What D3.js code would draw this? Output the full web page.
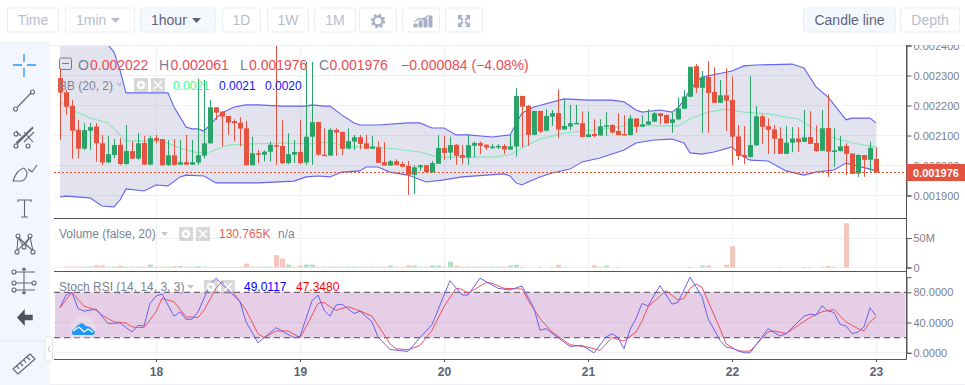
<!DOCTYPE html>
<html>
<head>
<meta charset="utf-8">
<script src="https://cdnjs.cloudflare.com/ajax/libs/d3/7.8.5/d3.min.js"></script>
<style>
  html, body { margin: 0; padding: 0; background: #fff; overflow: hidden; }
  svg { display: block; font-family: "Liberation Sans", Arial, sans-serif; }
  .axis .domain { stroke: #555; }
  .axis line { stroke: #555; }
  .axis text { fill: #7a7f8e; font-size: 11px; }
  .time text { fill: #5d6170; font-size: 12px; font-weight: bold; }
</style>
</head>
<body>
<div id="chart"></div>
<script>
// hourly candles, prices in millionths
const opens = [2291,2244,2199,2119,2056,2116,2130,2074,2010,2035,2069,2005,2048,2023,2075,2003,2091,2088,2001,2034,2003,2011,2003,2010,2033,2074,2194,2180,2165,2148,2143,2124,2001,2041,2036,2046,2068,2065,2008,2036,2045,2010,2096,2145,2036,2033,2119,2112,2056,2080,2094,2074,2056,2061,2011,2000,2014,2005,1999,1969,1994,2001,1978,2006,2058,2043,2069,2035,2026,2066,2075,2069,2060,2060,2065,2053,2063,2232,2199,2102,2182,2116,2163,2175,2120,2130,2140,2141,2095,2105,2100,2129,2135,2115,2105,2101,2157,2129,2136,2146,2174,2168,2142,2154,2189,2229,2331,2259,2295,2245,2209,2234,2218,2097,2035,2028,2067,2164,2131,2120,2090,2039,2076,2090,2079,2095,2075,2049,2125,2046,2048,2065,2040,1973,2035,2019,2022];
const highs = [2324,2252,2219,2152,2141,2141,2141,2102,2099,2088,2091,2135,2080,2108,2099,2099,2102,2088,2085,2088,2085,2102,2085,2289,2285,2219,2194,2180,2165,2154,2161,2149,2096,2052,2050,2080,2402,2152,2108,2085,2152,2345,2345,2146,2124,2124,2124,2114,2124,2102,2102,2102,2099,2080,2078,2019,2021,2013,2015,2002,2003,2002,2015,2102,2099,2096,2071,2069,2102,2080,2080,2071,2071,2071,2071,2102,2258,2232,2202,2182,2182,2188,2185,2254,2219,2202,2202,2180,2180,2154,2154,2178,2137,2174,2168,2168,2157,2168,2187,2179,2174,2170,2177,2227,2251,2329,2338,2315,2348,2327,2285,2324,2296,2135,2131,2298,2198,2170,2157,2135,2128,2131,2128,2128,2185,2181,2134,2185,2237,2124,2098,2074,2040,2038,2035,2079,2061];
const lows = [2085,2169,2022,2024,2052,2052,2013,2002,2008,2024,2002,2002,2022,2019,2002,2001,2074,1999,1999,2001,2002,2002,2002,2002,2024,2072,2152,2063,2102,2080,2063,2000,2000,2008,2013,2013,2002,2005,2005,2008,2005,2002,2002,2032,2032,2032,2032,2035,2054,2052,2054,2054,2055,2009,2000,1999,2001,1994,1902,1905,1982,1976,1976,2005,2019,2019,2002,2005,2002,2028,2038,2052,2055,2055,2038,2052,2030,2061,2065,2101,2108,2114,2132,2092,2119,2119,2140,2094,2094,2094,2099,2099,2106,2101,2101,2101,2109,2129,2135,2145,2138,2140,2109,2151,2188,2228,2242,2109,2109,2208,2208,2115,2001,2018,2005,2027,2066,2071,2039,2038,2038,2038,2044,2045,2078,2071,2046,2048,1962,1996,2047,1968,1971,1962,1962,1977,1976];
const closes = [2243,2196,2116,2056,2118,2128,2074,2010,2038,2068,2005,2048,2023,2074,2003,2091,2083,2001,2034,2002,2011,2003,2011,2034,2074,2194,2176,2163,2143,2141,2123,2001,2041,2036,2046,2069,2063,2008,2038,2045,2008,2096,2144,2036,2033,2119,2110,2056,2081,2094,2072,2056,2063,2009,2000,2014,2002,1996,1969,1994,2001,1978,2008,2058,2042,2068,2032,2026,2068,2075,2066,2060,2063,2065,2053,2064,2232,2196,2102,2182,2113,2165,2174,2120,2132,2141,2142,2095,2104,2098,2131,2134,2110,2101,2101,2157,2129,2137,2147,2174,2165,2141,2154,2190,2230,2329,2259,2294,2242,2209,2234,2216,2096,2032,2028,2068,2164,2129,2119,2089,2039,2076,2090,2078,2094,2072,2048,2124,2046,2050,2064,2039,1972,2035,2019,2059,1976];
const volumes = [0,1.5,1.5,1.5,1.5,1.5,3.5,3.5,1.5,1.5,3,1.5,1.5,1.5,1.5,5,1.5,1.5,1.5,2.5,2.5,1.5,1.5,2.5,1.5,1,1,1,1,1,1.5,6.5,1.5,1.5,1.5,1.5,21,15,5,1.5,3,5,5,1.5,1.5,1.5,1.5,1.5,1.5,1.5,1.5,1.5,1.5,1.5,1.5,3.5,1.5,1.5,3.5,3.5,1.5,1.5,3.5,3.5,1.5,10,3,1.5,1.5,1.5,1.5,1.5,1.5,1.5,1.5,3.5,4.5,1.5,0,0,1.5,0,1.2,4.5,1.2,0,0,0,0,3.5,1.2,3.5,0,1.2,0,0,0,0,0,0,0,0,0,0,0,1.2,0,3.5,3.5,0,0,4.5,36,0,0,0,0,0,0,0,1.2,0,0,0,1.2,1.2,0,1.2,2.5,1.2,0,75,0,0,0,0,0];

// bollinger bands, candle index + price
const upperIdx = [0,4,7,8,9,10,11,18,19,20,21,22,23,24,25,26,27,29,31,33,37,41,42,44,45,47,49,50,53,58,60,62,64,66,68,72,75,76,77,79,84,88,92,94,96,97,100,102,103,104,105,106,107,112,114,116,122,124,126,128,130,131,132,135,136];
const upperVal = [2520,2500,2440,2402,2378,2318,2242,2242,2195,2162,2128,2122,2122,2115,2135,2158,2175,2195,2202,2202,2198,2198,2202,2198,2198,2168,2142,2135,2135,2142,2142,2125,2125,2102,2102,2095,2102,2138,2175,2195,2222,2218,2218,2212,2185,2178,2185,2178,2192,2218,2252,2278,2295,2315,2332,2335,2338,2325,2262,2228,2178,2152,2158,2158,2142];
const lowerIdx = [0,1,5,7,9,10,11,14,16,18,20,21,24,26,33,39,41,43,45,47,50,51,53,55,58,61,64,67,74,75,76,77,78,80,82,85,87,90,94,96,99,102,104,105,107,109,112,113,115,118,121,124,126,129,131,135,136];
const lowerVal = [1895,1898,1892,1865,1862,1885,1922,1915,1935,1932,1962,1968,1965,1942,1942,1948,1962,1965,1962,1978,1982,1995,1995,1978,1968,1945,1952,1962,1972,1965,1942,1935,1945,1962,1975,1988,2012,2025,2052,2075,2085,2088,2075,2042,2038,2045,2062,2042,2018,2015,1982,1968,1978,1985,2008,1988,1982];
const midIdx = [0,2,5,8,11,17,20,21,23,25,28,32,37,42,45,48,52,56,60,63,72,75,77,80,84,87,92,95,99,103,105,108,111,114,118,123,126,129,132,136];
const midVal = [2212,2185,2158,2142,2082,2082,2058,2052,2042,2045,2068,2072,2075,2072,2078,2062,2062,2055,2045,2028,2028,2035,2058,2088,2108,2115,2125,2135,2132,2132,2155,2178,2188,2178,2172,2155,2118,2092,2075,2062];

// stoch rsi lines
const kIdx = [0,1,2,3,4,6,8,10,12,13,14,15,16,17,19,20,21,22,23,25,26,30,31,33,36,38,39,40,42,43,44,45,46,47,49,50,52,53,55,58,60,62,65,67,68,70,73,75,77,79,80,81,85,87,89,91,92,93,94,95,96,97,98,100,102,103,105,107,108,110,111,112,114,115,117,118,120,121,124,125,126,127,128,129,130,131,132,133,134,135,136];
const kVal = [59.5,76.4,80,58.7,55.1,57.8,38.7,39.5,27.5,36.4,35.5,65.3,75.1,77.8,48.4,54.2,44.4,44.4,54.2,89.8,98.7,67.5,40.9,13.3,33.3,24.4,20,21.8,68.9,76.4,56.4,48.4,63.1,64.4,52,55.1,40.9,20.9,4.4,1.8,20,37.3,95.5,76.4,76.4,98.7,85.3,83.1,88.4,58.7,29.8,32,8.4,9.8,0,20.9,25.3,20,5.3,30.7,45.3,65.3,61.8,88.9,64.4,66.7,100,74.2,45.3,16.4,7.5,6.2,0,0,20.9,32,22.2,25.3,48.4,51.1,49.8,62.2,55.5,53.3,37.8,35.5,25.3,27.5,34.2,59.5,49.0117];
const dIdx = [0,2,4,6,7,9,11,12,14,16,17,19,21,23,24,26,27,29,31,33,34,36,38,40,41,43,44,45,46,48,50,52,55,56,58,60,62,64,66,67,68,71,72,74,77,78,80,82,85,88,90,92,94,96,97,98,101,103,104,105,106,107,110,111,113,115,118,119,121,125,127,129,131,133,134,135,136];
const dVal = [59.5,80,61.8,56.4,49.8,40.9,39.5,34.2,33.3,54.2,72,67.5,47.5,46.7,56.4,85.3,94.2,78.7,56.4,25.3,20,28.9,28.9,20,34.2,65.3,66.7,60.9,56.4,60.9,55.5,48.4,12,5.3,4,9.8,29.8,60.9,85.3,84,78.7,92.9,92,85.3,84.4,69.8,45.3,27.5,10.7,7.5,3.1,20,15.5,27.5,41.8,60.9,82.2,69.8,72,85.3,91.1,86.7,32,12,2.2,2.2,27.5,28.9,25.3,46.7,54.2,57.3,40.9,32,28.9,40.9,47.348];

const timeIdx = [16,40,64,88,112,136];
const timeLabels = ['18','19','20','21','22','23'];
const priceTicks = [1900,2000,2100,2200,2300,2400];
const volumeTicks = [0,50];
const stochTicks = [0,40,80];

const GREEN = '#2aa36b';
const RED = '#e4533f';
const W = 965;
const H = 385;
const PLOT_LEFT = 54;
const PLOT_RIGHT = 906.5;
const PLOT_TOP = 45;
const PANE1 = 218;
const PANE2 = 271;
const PANE3 = 359;

const $svg = d3.select('#chart').append('svg').attr('width', W).attr('height', H);

const defs = $svg.append('defs');
defs.append('clipPath').attr('id', 'clip-main').append('rect')
  .attr('x', PLOT_LEFT).attr('y', PLOT_TOP).attr('width', PLOT_RIGHT - PLOT_LEFT).attr('height', PANE1 - PLOT_TOP);
defs.append('clipPath').attr('id', 'clip-axis').append('rect')
  .attr('x', PLOT_RIGHT - 1).attr('y', PLOT_TOP).attr('width', 70).attr('height', PANE3 - PLOT_TOP);

// scales
const scaleX = d3.scaleLinear().domain([0, 136]).range([60, 876]);
const scaleP = d3.scaleLinear().domain([1900, 2400]).range([195.5, 45.5]);
const scaleV = d3.scaleLinear().domain([0, 50]).range([267.5, 238]);
const scaleS = d3.scaleLinear().domain([0, 100]).range([352.8, 277.2]);

// grid
const $grid = $svg.append('g').attr('stroke', '#f0f1f5').attr('shape-rendering', 'crispEdges');
$grid.selectAll('.v').data(timeIdx).join('line')
  .attr('x1', d => scaleX(d)).attr('x2', d => scaleX(d)).attr('y1', PLOT_TOP).attr('y2', PANE3);
const gridH = priceTicks.map(scaleP).concat(volumeTicks.map(scaleV), stochTicks.map(scaleS));
$grid.selectAll('.h').data(gridH).join('line')
  .attr('x1', PLOT_LEFT).attr('x2', PLOT_RIGHT).attr('y1', d => d).attr('y2', d => d);

// bollinger bands
const $main = $svg.append('g').attr('clip-path', 'url(#clip-main)');
const bandPts = upperIdx.map((d, i) => [scaleX(d), scaleP(upperVal[i])])
  .concat(lowerIdx.map((d, i) => [scaleX(d), scaleP(lowerVal[i])]).reverse());
$main.append('path').attr('d', d3.line()(bandPts)).attr('fill', 'rgba(60,60,140,0.14)');

function bandLine(idx, vals, color) {
  $main.append('path')
    .attr('d', d3.line().x(d => scaleX(d)).y((d, i) => scaleP(vals[i]))(idx))
    .attr('fill', 'none').attr('stroke', color).attr('stroke-width', 1.1);
}
bandLine(midIdx, midVal, '#86e8b6');
bandLine(upperIdx, upperVal, '#6464ee');
bandLine(lowerIdx, lowerVal, '#6464ee');

// candles
const $candles = $main.selectAll('.candle').data(opens).join('g').attr('class', 'candle');
const candleColor = (d, i) => closes[i] >= d ? GREEN : RED;
$candles.append('line')
  .attr('x1', (d, i) => Math.round(scaleX(i)) + 0.5).attr('x2', (d, i) => Math.round(scaleX(i)) + 0.5)
  .attr('y1', (d, i) => scaleP(highs[i])).attr('y2', (d, i) => scaleP(lows[i]))
  .attr('stroke', candleColor).attr('stroke-width', 1);
$candles.append('rect')
  .attr('x', (d, i) => scaleX(i) - 2).attr('width', 5)
  .attr('y', (d, i) => scaleP(Math.max(d, closes[i])))
  .attr('height', (d, i) => Math.max(1.5, Math.abs(scaleP(d) - scaleP(closes[i]))))
  .attr('fill', candleColor);

// last price line
const lastY = Math.floor(scaleP(closes[136])) + 0.5;
$svg.append('line')
  .attr('x1', PLOT_LEFT).attr('x2', PLOT_RIGHT).attr('y1', lastY).attr('y2', lastY)
  .attr('stroke', '#e8502f').attr('stroke-dasharray', '2,2');

// volume
$svg.append('g').selectAll('rect').data(volumes).join('rect')
  .attr('x', (d, i) => scaleX(i) - 2).attr('width', 5)
  .attr('y', d => scaleV(d)).attr('height', d => scaleV(0) - scaleV(d))
  .attr('fill', (d, i) => closes[i] >= opens[i] ? '#b5dec9' : '#f3c5bd');

// stoch rsi
$svg.append('rect')
  .attr('x', PLOT_LEFT + 1).attr('width', PLOT_RIGHT - PLOT_LEFT - 2)
  .attr('y', scaleS(80)).attr('height', scaleS(20) - scaleS(80)).attr('fill', '#e4cde6').attr('opacity', 0.98);
$svg.selectAll('.lim').data([80, 20]).join('line')
  .attr('x1', PLOT_LEFT).attr('x2', PLOT_RIGHT).attr('y1', d => scaleS(d)).attr('y2', d => scaleS(d))
  .attr('stroke', '#6e6672').attr('stroke-width', 1.2).attr('stroke-dasharray', '6,4');
$svg.append('line').attr('x1', PLOT_LEFT).attr('x2', PLOT_RIGHT).attr('y1', scaleS(40)).attr('y2', scaleS(40))
  .attr('stroke', '#d8c4dc');
$svg.append('path')
  .attr('d', d3.line().x(d => scaleX(d)).y((d, i) => scaleS(dVal[i]))(dIdx))
  .attr('fill', 'none').attr('stroke', '#f0505f').attr('stroke-width', 1);
$svg.append('path')
  .attr('d', d3.line().x(d => scaleX(d)).y((d, i) => scaleS(kVal[i]))(kIdx))
  .attr('fill', 'none').attr('stroke', '#6a62ec').attr('stroke-width', 1);

// pane borders
$svg.selectAll('.pane').data([PANE1, PANE2, PANE3]).join('line')
  .attr('x1', PLOT_LEFT).attr('x2', PLOT_RIGHT).attr('y1', d => d + 0.5).attr('y2', d => d + 0.5)
  .attr('stroke', '#555');
$svg.append('line').attr('x1', 50).attr('x2', W).attr('y1', PLOT_TOP + 0.5).attr('y2', PLOT_TOP + 0.5).attr('stroke', '#eff0f3');
$svg.append('line').attr('x1', 50).attr('x2', W).attr('y1', 384.5).attr('y2', 384.5).attr('stroke', '#eff0f3');

// axes
const $axes = $svg.append('g').attr('clip-path', 'url(#clip-axis)');
$axes.append('g').attr('class', 'axis').attr('transform', `translate(${PLOT_RIGHT},0)`)
  .call(d3.axisRight(scaleP).tickValues(priceTicks).tickSize(5).tickPadding(2).tickFormat(d => (d / 1e6).toFixed(6)));
$axes.append('g').attr('class', 'axis').attr('transform', `translate(${PLOT_RIGHT},0)`)
  .call(d3.axisRight(scaleV).tickValues(volumeTicks).tickSize(5).tickPadding(2).tickFormat(d => d ? d + 'M' : '0'));
$axes.append('g').attr('class', 'axis').attr('transform', `translate(${PLOT_RIGHT},0)`)
  .call(d3.axisRight(scaleS).tickValues(stochTicks).tickSize(5).tickPadding(2).tickFormat(d => d.toFixed(4)));
$svg.append('line').attr('x1', PLOT_RIGHT).attr('x2', PLOT_RIGHT).attr('y1', PLOT_TOP).attr('y2', PANE3 + 0.5).attr('stroke', '#555');

$svg.append('g').attr('class', 'axis time').attr('transform', `translate(0,${PANE3})`)
  .call(d3.axisBottom(scaleX).tickValues(timeIdx).tickSize(3).tickPadding(5).tickFormat((d, i) => timeLabels[i]))
  .call(g => g.select('.domain').remove());

// last price tag
$svg.append('rect').attr('x', PLOT_RIGHT).attr('y', 164).attr('width', W - PLOT_RIGHT).attr('height', 17).attr('fill', RED);
$svg.append('text').attr('x', 913).attr('y', 176.5).attr('fill', '#fff')
  .attr('font-size', 11).attr('font-weight', 'bold').text((closes[136] / 1e6).toFixed(6));

// legends
function label(x, y, text, color, size) {
  $svg.append('text').attr('x', x).attr('y', y).attr('fill', color).attr('font-size', size || 12).text(text);
}
const LEG_GRAY = '#7b8294';
const LEG_RED = '#ec4a55';
$svg.append('rect').attr('x', 59.5).attr('y', 58).attr('width', 12).attr('height', 11.5).attr('rx', 1.5)
  .attr('fill', 'none').attr('stroke', '#777d8c');
$svg.append('line').attr('x1', 62).attr('x2', 69).attr('y1', 63.5).attr('y2', 63.5).attr('stroke', '#777d8c');
label(78, 70, 'O', LEG_GRAY, 14);
label(90, 70, '0.002022', LEG_RED, 14);
label(159, 70, 'H', LEG_GRAY, 14);
label(170.5, 70, '0.002061', LEG_RED, 14);
label(240, 70, 'L', LEG_GRAY, 14);
label(249, 70, '0.001976', LEG_RED, 14);
label(319, 70, 'C', LEG_GRAY, 14);
label(329.5, 70, '0.001976', LEG_RED, 14);
label(401, 70, '\u22120.000084 (\u22124.08%)', LEG_RED, 14);

function settings(x, y) {
  [0, 17].forEach((dx, k) => {
    $svg.append('rect').attr('x', x + dx).attr('y', y).attr('width', 14).attr('height', 14)
      .attr('fill', '#9a9a9a').attr('opacity', 0.38);
    if (k === 0) {
      $svg.append('circle').attr('cx', x + 7).attr('cy', y + 7).attr('r', 3)
        .attr('fill', 'none').attr('stroke', '#fff').attr('stroke-width', 2.4);
    } else {
      $svg.append('path').attr('d', `M${x + 20} ${y + 3}L${x + 28} ${y + 11}M${x + 28} ${y + 3}L${x + 20} ${y + 11}`)
        .attr('stroke', '#fff').attr('stroke-width', 1.6);
    }
  });
}
function caret(x, y) {
  $svg.append('path').attr('d', `M${x} ${y}h7l-3.5 4z`).attr('fill', '#c4c7d0');
}
label(59, 90, 'BB (20, 2)', LEG_GRAY, 12);
caret(116, 83);
settings(134, 78);
label(173, 90, '0.0021', '#33ff88', 12);
label(219, 90, '0.0021', '#1010ff', 12);
label(265, 90, '0.0020', '#1010ff', 12);

label(59, 238, 'Volume (false, 20)', LEG_GRAY, 12);
caret(161, 232);
settings(179, 227);
label(219, 238, '130.765K', '#e4604e', 12);
label(278, 238, 'n/a', LEG_GRAY, 12);

label(59, 291, 'Stoch RSI (14, 14, 3, 3)', LEG_GRAY, 12);
caret(187, 285);
settings(204, 280);
label(244, 291, '49.0117', '#0000ff', 12);
label(296, 291, '47.3480', '#ff0000', 12);

// top toolbar
const buttons = [
  ['Time', 7, 51, 0], ['1min', 65, 69, 0], ['1hour', 140, 75, 1], ['1D', 222, 38, 0],
  ['1W', 267, 41, 0], ['1M', 314, 41, 0], ['', 359, 37, 0], ['', 402, 37, 0], ['', 445, 37, 0],
  ['Candle line', 803, 92, 1], ['Depth', 900, 59, 0]
];
const $btn = $svg.append('g');
buttons.forEach(([txt, x, w, active]) => {
  $btn.append('rect').attr('x', x + 0.5).attr('y', 8).attr('width', w).attr('height', 24).attr('rx', 2)
    .attr('fill', active ? '#f5f8fe' : '#fff').attr('stroke', '#e9edf5');
  if (!txt) return;
  const hasCaret = txt === '1min' || txt === '1hour';
  $btn.append('text').attr('x', hasCaret ? x + 11 : x + w / 2 + 0.5).attr('y', 25)
    .attr('text-anchor', hasCaret ? 'start' : 'middle').attr('font-size', 14)
    .attr('fill', active ? '#5f6478' : '#b7bccd').text(txt);
  if (hasCaret) {
    $btn.append('path').attr('d', `M${x + w - 23} 18h9l-4.5 5z`).attr('fill', active ? '#5f6478' : '#b7bccd');
  }
});
// gear, mini chart, expand glyphs
$btn.append('circle').attr('cx', 378).attr('cy', 21).attr('r', 4.5)
  .attr('fill', 'none').attr('stroke', '#a9afc6').attr('stroke-width', 2.4);
$btn.append('circle').attr('cx', 378).attr('cy', 21).attr('r', 6.2)
  .attr('fill', 'none').attr('stroke', '#a9afc6').attr('stroke-width', 2.2).attr('stroke-dasharray', '2.4,2.47');
$btn.append('path').attr('d', 'M414 27v-3h3v3zM419 27v-6h3v6zM424 27v-8h3v8zM429 27v-11h3v11zM414 22l5-4 4 2 6-5').attr('fill', '#a9afc6').attr('stroke', '#a9afc6');
$btn.append('path').attr('d', 'M458 15h5l-2 2 2.5 2.5-1.5 1.5-2.5-2.5-1.5 1.5zM470 15h-5l2 2-2.5 2.5 1.5 1.5 2.5-2.5 1.5 1.5zM458 27h5l-2-2 2.5-2.5-1.5-1.5-2.5 2.5-1.5-1.5zM470 27h-5l2-2-2.5-2.5 1.5-1.5 2.5 2.5 1.5-1.5z').attr('fill', '#a9afc6');

// left drawing toolbar
$svg.insert('rect', ':first-child').attr('x', 0).attr('y', 41).attr('width', 50).attr('height', H - 41).attr('fill', '#f3f6fe');
const $tools = $svg.append('g').attr('fill', 'none').attr('stroke', '#62666f').attr('stroke-width', 1.1);
$tools.append('path').attr('d', 'M24 54v8M24 68v9M13 65h9M27 65h9').attr('stroke', '#2a96ee').attr('stroke-width', 1.3);
$tools.append('path').attr('d', 'M17.5 107L31 93');
$tools.selectAll('.dot').data([[15.5,109],[32.5,92]]).join('circle').attr('cx', d => d[0]).attr('cy', d => d[1]).attr('r', 2);
$tools.append('path').attr('d', 'M16 143L33 127M24 132L33 142M16 131l5 5M33 128l-16 16M24 142l10-10');
$tools.selectAll('.fork').data([[16,134],[16,146],[28,146]]).join('circle').attr('cx', d => d[0]).attr('cy', d => d[1]).attr('r', 2);
$tools.append('path').attr('d', 'M13 181c2-6 6-12 11-13l3 4c0 5-2 8-5 9zM28 169l4 3 5-7').attr('stroke-linejoin', 'round');
$tools.append('path').attr('d', 'M18 202v-2h13v2M24.5 200v17M21 217h7');
$tools.append('path').attr('d', 'M18 237l-1 14M18 237l6 10M24 247l6-10M30 237l3 14M17 251l13-14M33 251l-15-14');
$tools.selectAll('.poly').data([[18,236],[30,236],[17,252],[33,252],[24,247]]).join('circle').attr('cx', d => d[0]).attr('cy', d => d[1]).attr('r', 2).attr('fill', '#f3f6fe');
$tools.append('path').attr('d', 'M16 272h19M16 283h16M16 290h19M24 268v26M22 270l2-2 2 2M22 292l2 2 2-2');
$tools.selectAll('.fib').data([[14,272],[14,283],[34,283],[14,290]]).join('circle').attr('cx', d => d[0]).attr('cy', d => d[1]).attr('r', 2);
$tools.append('path').attr('d', 'M24 311l-6 6.5 6 6.5v-4.5h8v-4h-8z').attr('fill', '#4d5460').attr('stroke', '#4d5460').attr('stroke-width', 1.5);
$svg.append('line').attr('x1', 0).attr('x2', 50).attr('y1', 341).attr('y2', 341).attr('stroke', '#e6e9f2');
$tools.append('path').attr('d', 'M13 369L30 354l5 5-17 15zM17 366l2 3M20 363l3 3M24 360l2 3M27 357l3 3').attr('stroke-linejoin', 'round');
$svg.append('rect').attr('x', 45).attr('y', 336.5).attr('width', 7.5).attr('height', 25).attr('rx', 3.5).attr('fill', '#fff').attr('stroke', '#dfe2e8');
$svg.append('path').attr('d', 'M50 346l-2 3 2 3').attr('fill', 'none').attr('stroke', '#bbb');

// cloud badge
$svg.append('circle').attr('cx', 83).attr('cy', 329).attr('r', 13).attr('fill', '#fff').attr('opacity', 0.22);
$svg.append('path')
  .attr('d', 'M74 335c-3 0-3-5 0-6l4-4 4-2 4 3 4 1 3 3c3 1 2 5 0 5z')
  .attr('fill', '#2196f3');
$svg.append('path').attr('d', 'M73 331l6-4 5 5 4-3 5 3').attr('fill', 'none').attr('stroke', '#fff').attr('stroke-width', 1.2);
</script>
</body>
</html>
